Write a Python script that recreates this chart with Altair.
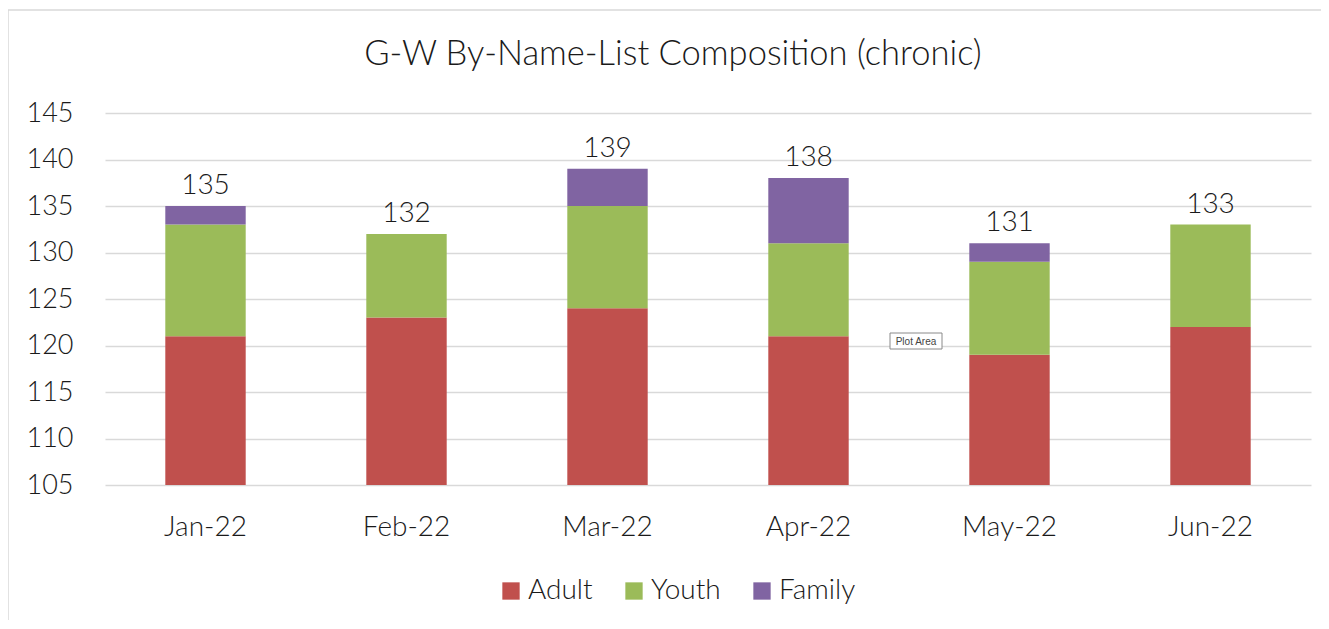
import altair as alt
import pandas as pd

months = ["Jan-22", "Feb-22", "Mar-22", "Apr-22", "May-22", "Jun-22"]
series = ["Adult", "Youth", "Family"]
adult = [121, 123, 124, 121, 119, 122]
youth = [12, 9, 11, 10, 10, 11]
family = [2, 0, 4, 7, 2, 0]
colors = ["#C0504D", "#9BBB59", "#8064A2"]
title_text = "G-W By-Name-List Composition (chronic)"

rows = []
for i, m in enumerate(months):
    for k, (s, vals) in enumerate(zip(series, [adult, youth, family])):
        rows.append({"month": m, "series": s, "order": k, "value": vals[i]})
df = pd.DataFrame(rows)

FONT = "Lato"
FW = 300
TXT = "#1a1a1a"
W, H = 1206, 372

x_enc = alt.X("month:N", sort=months,
              scale=alt.Scale(paddingInner=0.6, paddingOuter=0.3),
              axis=alt.Axis(title=None, labelAngle=0, ticks=False, domain=False,
                            labelFontSize=28, labelFont=FONT, labelFontWeight=FW,
                            labelColor=TXT, labelPadding=28, grid=False))
y_scale = alt.Scale(domain=[105, 145], nice=False, zero=False)

bars = alt.Chart(df).mark_bar(clip=True).encode(
    x=x_enc,
    y=alt.Y("value:Q", stack="zero", scale=y_scale,
            axis=alt.Axis(title=None, values=list(range(105, 146, 5)), ticks=False,
                          domain=False, labelFontSize=27, labelFont=FONT,
                          labelFontWeight=FW, labelColor=TXT, labelPadding=32,
                          gridColor="#d9d9d9", gridWidth=1.5)),
    color=alt.Color("series:N", sort=series,
                    scale=alt.Scale(domain=series, range=colors),
                    legend=alt.Legend(title=None, orient="none", direction="horizontal",
                                      legendX=392, legendY=464,
                                      symbolType="square", symbolSize=300,
                                      symbolStrokeWidth=0, symbolOpacity=1,
                                      labelFontSize=28, labelFont=FONT,
                                      labelFontWeight=FW, labelColor=TXT,
                                      labelOffset=3, columnPadding=27, labelLimit=300)),
    order=alt.Order("order:Q"),
)

totals = alt.Chart(df).transform_aggregate(
    total="sum(value)", groupby=["month"]
).mark_text(font=FONT, fontWeight=FW, fontSize=28, color=TXT, baseline="bottom", dy=-6).encode(
    x=alt.X("month:N", sort=months),
    y=alt.Y("total:Q", scale=y_scale),
    text=alt.Text("total:Q"),
)

one = pd.DataFrame({"a": [0]})
border_top = alt.Chart(one).mark_rule(color="#d9d9d9", strokeWidth=1.5, clip=False).encode(
    x=alt.value(-97), x2=alt.value(1300), y=alt.value(-103))
border_left = alt.Chart(one).mark_rule(color="#d9d9d9", strokeWidth=1.5, clip=False).encode(
    x=alt.value(-97), y=alt.value(-103), y2=alt.value(530))

title = alt.Chart(pd.DataFrame({"t": [title_text]})).mark_text(
    font=FONT, fontWeight=FW, fontSize=34.5, color=TXT, align="center", baseline="middle"
).encode(x=alt.value(568), y=alt.value(-58), text="t:N")

tip_box = alt.Chart(one).mark_rect(
    fill="white", stroke="#8a8a8a", strokeWidth=1
).encode(x=alt.value(785), x2=alt.value(837), y=alt.value(220), y2=alt.value(236))
tip_text = alt.Chart(pd.DataFrame({"t": ["Plot Area"]})).mark_text(
    font="Liberation Sans", fontSize=10, color="#444444", align="center", baseline="middle"
).encode(x=alt.value(811), y=alt.value(228.5), text="t:N")

chart = alt.layer(border_top, border_left, title, bars, totals, tip_box, tip_text).properties(
    width=W, height=H,
    autosize=alt.AutoSizeParams(type="none"),
    padding={"left": 97, "top": 105, "right": 10, "bottom": 135},
    view=alt.ViewBackground(stroke="#ffffff", strokeOpacity=0, strokeWidth=0),
).configure_view(stroke="#ffffff", strokeOpacity=0, strokeWidth=0).configure(background="white")

chart.save("out.html", embed_options={"renderer": "svg", "actions": False})
